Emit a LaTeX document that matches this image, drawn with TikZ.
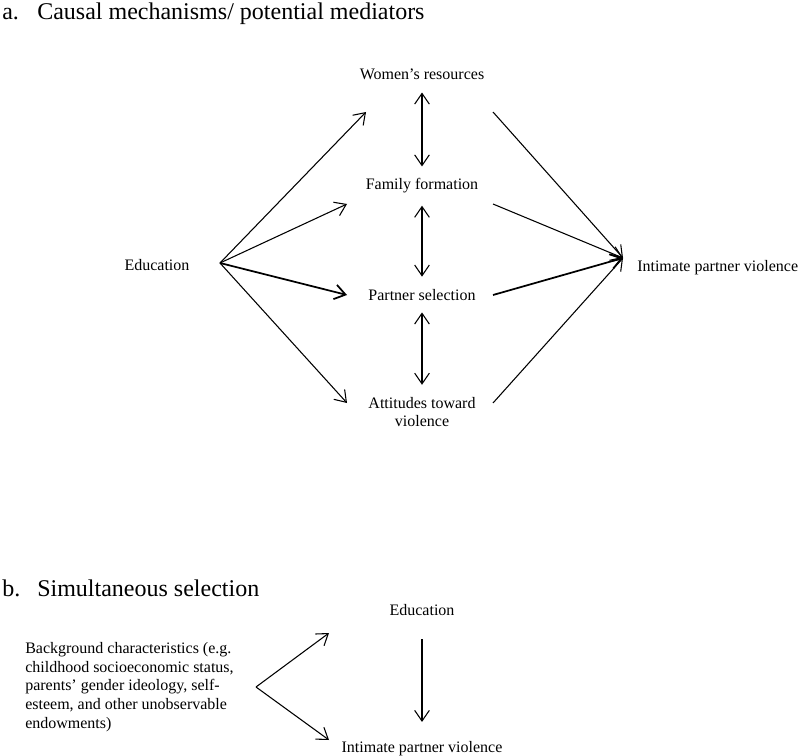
\documentclass[tikz,border=0pt]{standalone}
\usepackage{fontspec}
\setmainfont{Liberation Serif}
\usetikzlibrary{positioning}
\usetikzlibrary{arrows.meta}
\tikzset{>={Straight Barb[length=8pt,width=11pt]}}

\begin{document}
\begin{tikzpicture}[x=0.75pt, y=-0.75pt, label/.style={inner sep=0pt, font=\fontsize{12}{14}\selectfont}, title/.style={inner sep=0pt, anchor=base west, font=\fontsize{18}{21}\selectfont}, link/.style={->, line width=0.8pt}, boldlink/.style={->, line width=1.3pt}, twoway/.style={<->, line width=0.8pt, shorten <=9pt, shorten >=9pt}]
    \useasboundingbox (0,0) rectangle (800,756);

    %Nodes, part a
    \node[title](a_num) at (2,20){a.};
    \node[title](a_title) at (37,20){Causal mechanisms/ potential mediators};
    \node[label, anchor=base](educ) at (157,271){Education};
    \node[label, anchor=base](resources) at (422,80){Women’s resources};
    \node[label, anchor=base](family) at (422,190){Family formation};
    \node[label, anchor=base](partner) at (422,300){Partner selection};
    \node[label, align=center](attitudes) at (422,412){Attitudes toward\\violence};
    \node[label, anchor=base west](ipv) at (637,272){Intimate partner violence};

    %Free ends, part a
    \coordinate (fork) at (220,263);
    \coordinate (join) at (623,258);
    \coordinate (resources_in) at (366,112);
    \coordinate (family_in) at (347,204);
    \coordinate (partner_in) at (347,295);
    \coordinate (attitudes_in) at (347,403);
    \coordinate (resources_out) at (493,112);
    \coordinate (family_out) at (493,204);
    \coordinate (partner_out) at (493,295);
    \coordinate (attitudes_out) at (493,403);

    %Lines, part a
    \draw[link] (fork) -- (resources_in);
    \draw[link] (fork) -- (family_in);
    \draw[boldlink] (fork) -- (partner_in);
    \draw[link] (fork) -- (attitudes_in);
    \draw[twoway] (resources.south) -- (family.north);
    \draw[twoway] (family.south) -- (partner.north);
    \draw[twoway] (partner.south) -- (attitudes.north);
    \draw[link] (resources_out) -- (join);
    \draw[link] (family_out) -- (join);
    \draw[boldlink] (partner_out) -- (join);
    \draw[link] (attitudes_out) -- (join);

    %Nodes, part b
    \node[title](b_num) at (2,596){b.};
    \node[title](b_title) at (37,596){Simultaneous selection};
    \node[label, anchor=west, align=left](background) at (25,687){Background characteristics (e.g.\\childhood socioeconomic status,\\parents’ gender ideology, self-\\esteem, and other unobservable\\endowments)};
    \node[label, anchor=base](educ_b) at (422,615){Education};
    \node[label, anchor=base](ipv_b) at (422,752){Intimate partner violence};

    %Lines, part b
    \coordinate (split) at (256,687);
    \coordinate (educ_b_in) at (329,633);
    \coordinate (ipv_b_in) at (329,740);
    \draw[link] (split) -- (educ_b_in);
    \draw[link] (split) -- (ipv_b_in);
    \draw[link, shorten <=18pt, shorten >=14pt] (educ_b.south) -- (ipv_b.north);

\end{tikzpicture}
\end{document}
